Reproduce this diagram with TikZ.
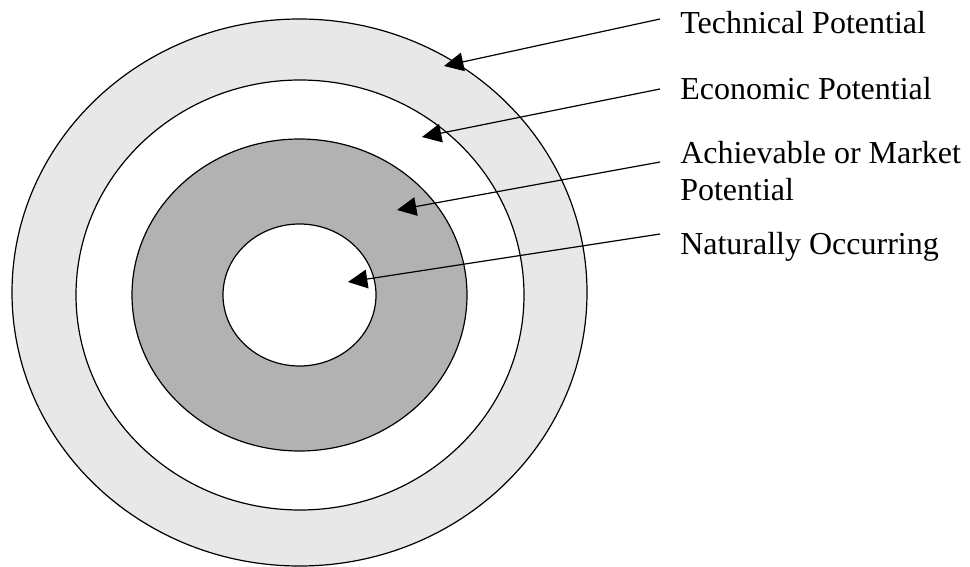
\documentclass[tikz,border=0pt]{standalone}
\usepackage{fontspec}
\setmainfont{Liberation Serif}
\usetikzlibrary{arrows.meta}
\begin{document}
\begin{tikzpicture}[x=0.75pt,y=-0.75pt,
  ring/.style={draw=black,line width=0.9pt},
  pointer/.style={draw=black,line width=0.9pt,-{Triangle[length=14.5pt,width=14pt]}},
  lbl/.style={anchor=base west,inner sep=0pt,align=left,font=\fontsize{24}{27.5}\selectfont}]
\useasboundingbox (0,0) rectangle (970,567);
% rings
\filldraw[ring,fill=black!9] (299.5,292.5) ellipse [x radius=287.5,y radius=273.5];
\filldraw[ring,fill=white] (300,295) ellipse [x radius=224,y radius=215];
\filldraw[ring,fill=black!30] (299.5,295) ellipse [x radius=167.5,y radius=156];
\filldraw[ring,fill=white] (299.5,295) ellipse [x radius=76.5,y radius=71];
% labels
\node[lbl] (tech) at (680,34) {Technical Potential};
\node[lbl] (econ) at (680,99) {Economic Potential};
\node[lbl] (ach) at (680,200) {Achievable or Market\\Potential};
\node[lbl] (nat) at (680,254) {Naturally Occurring};
% pointer ends
\coordinate (s1) at (660,19);
\coordinate (s2) at (660,89);
\coordinate (s3) at (660,162);
\coordinate (s4) at (660,234);
\coordinate (t1) at (444,66);
\coordinate (t2) at (422,137);
\coordinate (t3) at (397,210);
\coordinate (t4) at (348,282);
\draw[pointer] (s1) -- (t1);
\draw[pointer] (s2) -- (t2);
\draw[pointer] (s3) -- (t3);
\draw[pointer] (s4) -- (t4);
\end{tikzpicture}
\end{document}
